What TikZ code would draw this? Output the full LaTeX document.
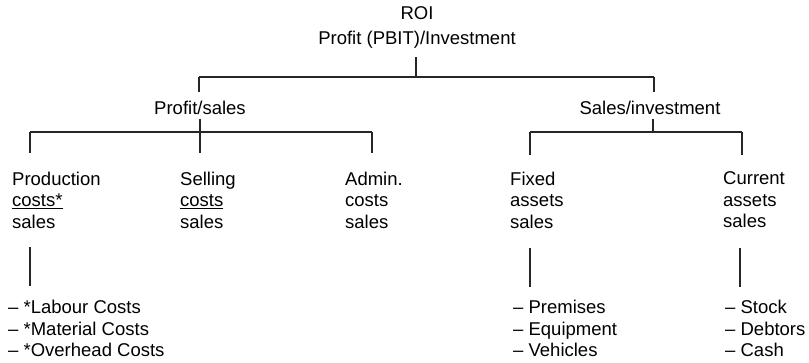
\documentclass[tikz,border=0pt]{standalone}
\usepackage{fontspec}
\setmainfont{Liberation Sans}
\begin{document}
\begin{tikzpicture}[x=1pt,y=-1pt,
  conn/.style={draw=black!85,line width=1.3pt},
  lbl/.style={inner sep=0pt,font=\fontsize{18.5}{21.5}\selectfont},
  one/.style={lbl,text height=13pt,text depth=4pt,anchor=base},
  multi/.style={lbl,align=left,anchor=north west}]
\useasboundingbox (0,0) rectangle (809,362);
% texts
\node[lbl,align=center,anchor=north,font=\fontsize{18.5}{25}\selectfont] (roi) at (417,6.4) {ROI\\Profit (PBIT)/Investment};
\node[one] (ps) at (200,114.6) {Profit/sales};
\node[one] (si) at (650,114.6) {Sales/investment};
\node[multi] (prod)  at (12,171.5)  {Production\\\underline{costs*}\\sales};
\node[multi] (sell)  at (180,171.5) {Selling\\\underline{costs}\\sales};
\node[multi] (admin) at (345,171.5) {Admin.\\costs\\sales};
\node[multi] (fixed) at (510,171.5) {Fixed\\assets\\sales};
\node[multi] (curr)  at (723,171.5) {Current\\assets\\sales};
\node[multi] (lab)   at (8,300)   {– *Labour Costs\\– *Material Costs\\– *Overhead Costs};
\node[multi] (prem)  at (513,300) {– Premises\\– Equipment\\– Vehicles};
\node[multi] (stock) at (725,300) {– Stock\\– Debtors\\– Cash};
% junctions
\coordinate (tM) at (416,77);
\coordinate (tL) at (199,77);
\coordinate (tR) at (654,77);
\coordinate (aM) at (200,132);
\coordinate (aL) at (30,132);
\coordinate (aR) at (372,132);
\coordinate (bM) at (653,132);
\coordinate (bL) at (530,132);
\coordinate (bR) at (742,132);
% level 1
\draw[conn,shorten <=8.5pt] (roi.south -| tM) -- (tM);
\draw[conn] (tL) -- (tR);
\draw[conn,shorten >=9.5pt] (tL) -- (tL |- ps.north);
\draw[conn,shorten >=9.5pt] (tR) -- (tR |- si.north);
% level 2 (profit/sales)
\draw[conn,shorten >=18.5pt] (ps.south -| aM) -- (aM |- prod.north);
\draw[conn] (aL) -- (aR);
\draw[conn,shorten >=18.5pt] (aL) -- (aL |- prod.north);
\draw[conn,shorten >=18.5pt] (aR) -- (aR |- admin.north);
% level 2 (sales/investment)
\draw[conn] (si.south -| bM) -- (bM);
\draw[conn] (bL) -- (bR);
\draw[conn,shorten >=16.5pt] (bL) -- (bL |- fixed.north);
\draw[conn,shorten >=16.5pt] (bR) -- (bR |- curr.north);
% level 3
\draw[conn,shorten <=19pt,shorten >=14pt] (prod.south -| aL) -- (lab.north -| aL);
\draw[conn,shorten <=20pt,shorten >=13pt] (fixed.south -| bL) -- (prem.north -| bL);
\draw[conn,shorten <=20pt,shorten >=13pt] (curr.south -| 740,0) -- (stock.north -| 740,0);
\end{tikzpicture}
\end{document}
